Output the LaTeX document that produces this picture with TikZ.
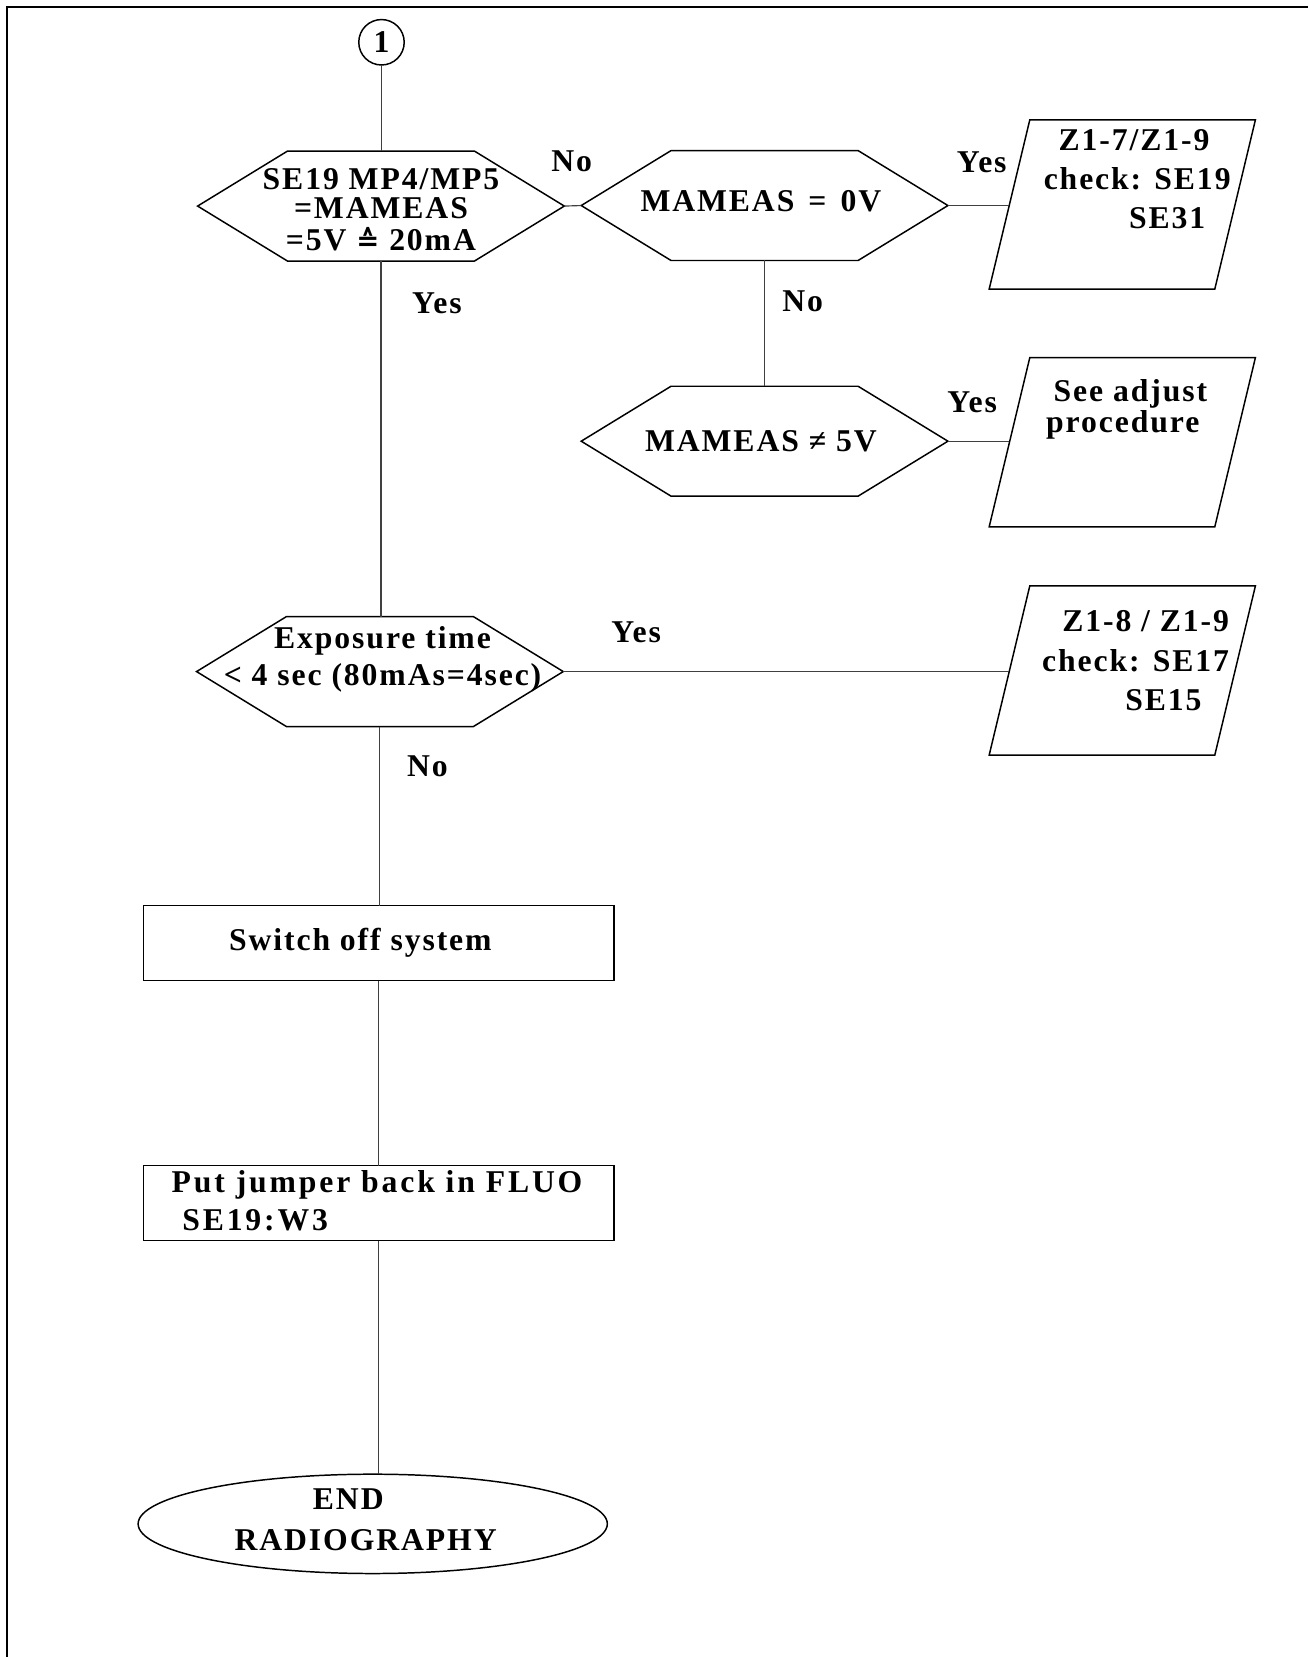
\documentclass[tikz,border=0pt]{standalone}
\usepackage{fontspec}
\setmainfont{Liberation Serif}
\newfontfamily\fc[LetterSpace=6]{Liberation Serif}
\newfontfamily\fcw[LetterSpace=9]{Liberation Serif}
\newfontfamily\symf{DejaVu Sans}
\usetikzlibrary{shapes.geometric}
% text placed inside a node, shifted from its centre
\newcommand\txtc[3]{\raisebox{#2}[0pt][0pt]{\makebox[0pt]{\hspace*{#1}\hspace*{#1}#3}}}
\newcommand\txtr[3]{\raisebox{#2}[0pt][0pt]{\makebox[0pt][r]{#3\hspace*{-#1}}}}
\newcommand\txtl[3]{\raisebox{#2}[0pt][0pt]{\makebox[0pt][l]{\hspace*{#1}#3}}}
\newcommand\tf[1]{\fc\bfseries\fontsize{15}{#1}\selectfont}
\newcommand\tfw[1]{\fcw\bfseries\fontsize{15}{#1}\selectfont}
\tikzset{
  base/.style={inner sep=0pt, outer sep=0pt},
  hexa/.style={base, minimum width=173.5pt, minimum height=52pt},
  para/.style={base, minimum width=106.75pt, minimum height=80pt},
  procbox/.style={base, draw, line width=0.7pt, minimum width=222.5pt, minimum height=35.5pt},
  term/.style={base, draw, ellipse, line width=0.7pt, minimum width=222pt, minimum height=47pt},
  conn/.style={line width=0.55pt, draw=black!75},
  outline/.style={line width=0.7pt},
  lbl/.style={base, font={\tf{18}}}
}
\begin{document}
\begin{tikzpicture}[x=0.5pt, y=-0.5pt]
\useasboundingbox (0,0) rectangle (1238,1568);
% frame
\draw[line width=1pt] (7,1568) -- (7,7) -- (1238,7);

% nodes
\node[base, draw, circle, line width=0.7pt, minimum size=21.5pt, font={\tf{18}}] (c1) at (361,40) {1};

\node[hexa, font={\tf{14}}] (h1) at (360.5,195)
  {\txtc{0pt}{-7.3pt}{\begin{tabular}{@{}c@{}}SE19 MP4/MP5\\=MAMEAS\\=5V {\symf\fontsize{13}{14}\selectfont ≙} 20mA\end{tabular}}};
\node[hexa, font={\tf{18}}] (h2) at (723.5,194.5) {\txtc{-1.75pt}{-2.75pt}{MAMEAS\hspace{2pt} = \hspace{2pt}0V}};
\node[hexa, font={\tf{18}}] (h3) at (723.5,417.5) {\txtc{-1.75pt}{-4.75pt}{MAMEAS ≠ 5V}};
\node[hexa, font={\tf{17.5}}] (h4) at (359.5,635.5)
  {\txtc{1.25pt}{2.25pt}{\begin{tabular}{@{}c@{}}Exposure time\\< 4 sec (80mAs=4sec)\end{tabular}}};

\node[para, font={\tf{18.5}}] (p1) at (1062,193.5)
  {\txtr{51.25pt}{7.35pt}{\begin{tabular}{@{}r@{}}Z1-7/Z1-9\rule{10pt}{0pt}\\check: SE19\\SE31\rule{12pt}{0pt}\end{tabular}}};
\node[para, font={\tf{13.5}}] (p2) at (1062,418.5)
  {\txtl{-36pt}{11.45pt}{\begin{tabular}{@{}l@{}}\hspace*{3.5pt}See adjust\\procedure\end{tabular}}};
\node[para, font={\tf{18.5}}] (p3) at (1062,634.5)
  {\txtr{50.5pt}{-0.15pt}{\begin{tabular}{@{}r@{}}Z1-8 / Z1-9\\check: SE17\\SE15\rule{13pt}{0pt}\end{tabular}}};

\node[procbox, font={\tf{18}}] (b1) at (358.5,892.5) {\txtc{-8.75pt}{-3.25pt}{Switch off system}};
\node[procbox, font={\tfw{18}}] (b2) at (358.5,1138.5)
  {\txtl{-98pt}{-3.9pt}{\begin{tabular}{@{}l@{}}Put jumper back in FLUO\\\hspace*{5pt}SE19:W3\end{tabular}}};
\node[term, font={\tf{19.5}}] (e1) at (352.7,1442)
  {\txtc{-3.35pt}{-2.6pt}{\begin{tabular}{@{}c@{}}END\rule{16.4pt}{0pt}\\RADIOGRAPHY\end{tabular}}};

% outlines of hexagons and parallelograms
\foreach \n in {h1,h2,h3,h4}
  \draw[outline] (\n.west) -- ([xshift=42.5pt]\n.north west) -- ([xshift=-42.5pt]\n.north east)
     -- (\n.east) -- ([xshift=-42.5pt]\n.south east) -- ([xshift=42.5pt]\n.south west) -- cycle;
\foreach \n in {p1,p2,p3}
  \draw[outline] ([xshift=9.6pt]\n.north west) -- ([xshift=9.6pt]\n.north east)
     -- ([xshift=-9.6pt]\n.south east) -- ([xshift=-9.6pt]\n.south west) -- cycle;

% connectors
\draw[conn] (c1.south) -- (c1.south |- h1.north);
\draw[conn] (h1.east) -- (h2.west);
\draw[conn] (h2.east) -- (h2.east -| p1.west);
\draw[conn] (h2.south) -- (h3.north);
\draw[conn] (h3.east) -- (h3.east -| p2.west);
\draw[conn] (h1.south) -- (h1.south |- h4.north);
\draw[conn] (h4.east) -- (h4.east -| p3.west);
\draw[conn] (h4.south) -- (h4.south |- b1.north);
\draw[conn] (b1.south) -- (b2.north);
\draw[conn] (b2.south) -- (b2.south |- e1.north);

% connector labels
\node[lbl] (l1) at (541,153) {No};
\node[lbl] (l2) at (929,154) {Yes};
\node[lbl] (l3) at (759.5,285) {No};
\node[lbl] (l4) at (920,381) {Yes};
\node[lbl] (l5) at (413.5,287) {Yes};
\node[lbl] (l6) at (602,598) {Yes};
\node[lbl] (l7) at (404.5,725) {No};
\end{tikzpicture}
\end{document}
